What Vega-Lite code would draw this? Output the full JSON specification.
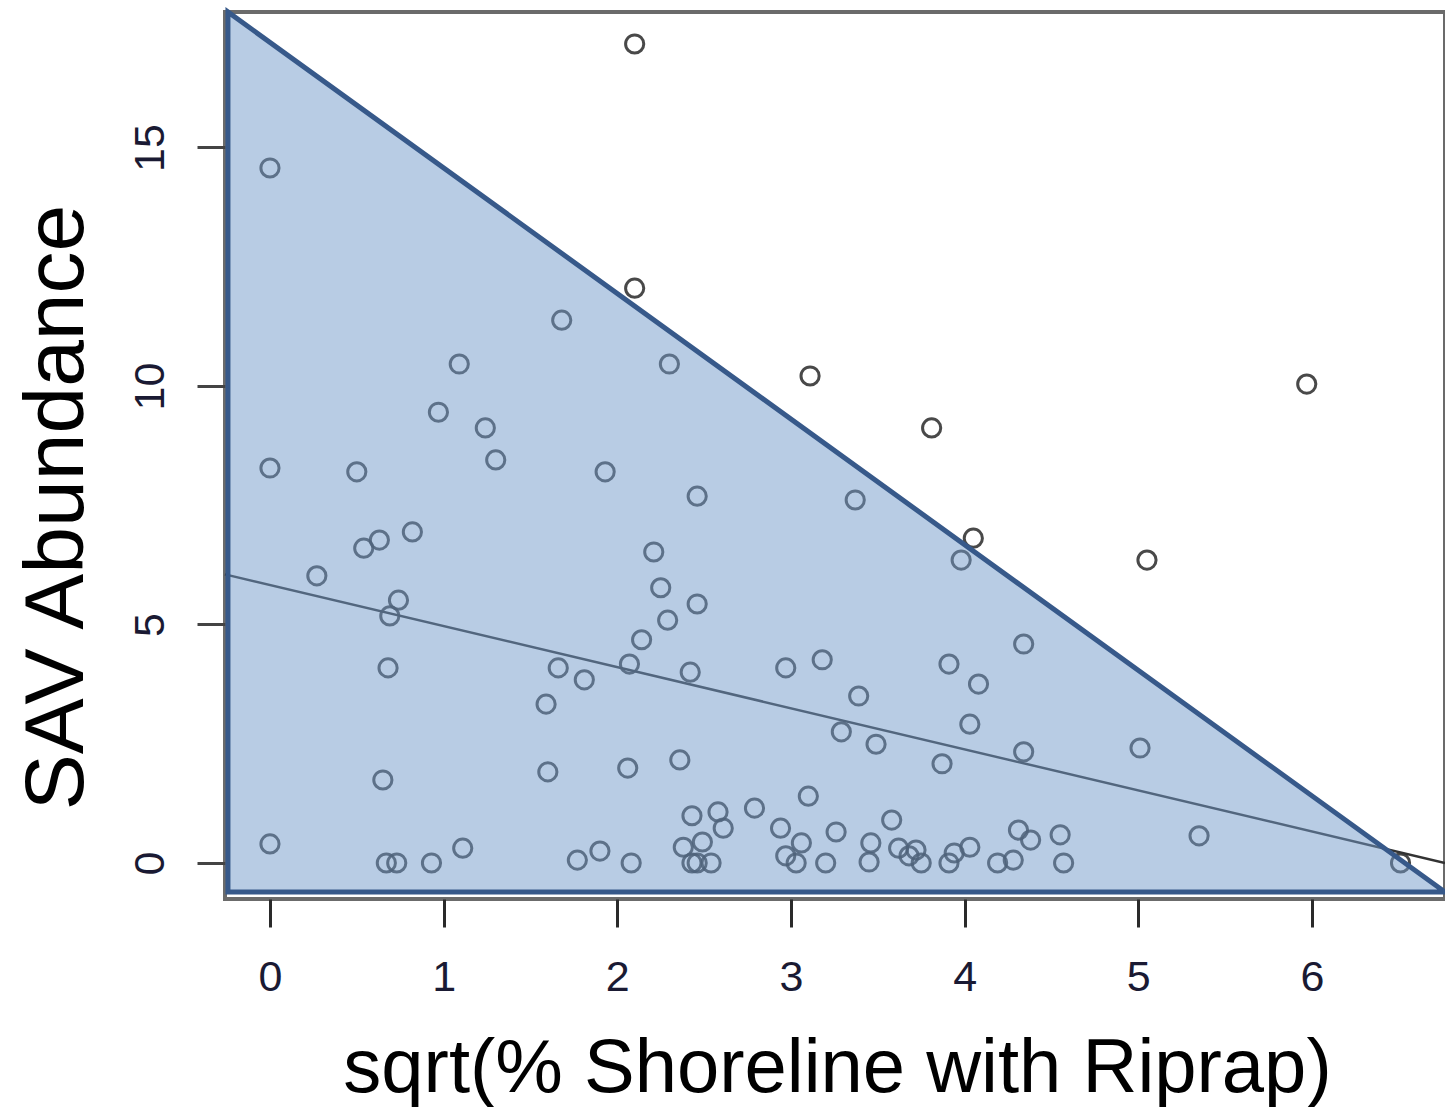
{
  "$schema": "https://vega.github.io/schema/vega-lite/v6.json",
  "width": 1220,
  "height": 887,
  "autosize": "none",
  "padding": {"left": 225, "top": 12, "right": 0, "bottom": 208},
  "background": "white",
  "config": {
    "view": {"stroke": "#6b6b6b", "strokeWidth": 4},
    "font": "Liberation Sans"
  },
  "datasets": {
    "pts": [
      {"x": 2.10, "y": 17.17}, {"x": 0, "y": 14.57}, {"x": 2.10, "y": 12.05}, {"x": 1.68, "y": 11.38},
      {"x": 1.09, "y": 10.46}, {"x": 2.30, "y": 10.46}, {"x": 3.11, "y": 10.21}, {"x": 5.97, "y": 10.04},
      {"x": 0.97, "y": 9.45}, {"x": 1.24, "y": 9.12}, {"x": 3.81, "y": 9.12}, {"x": 1.30, "y": 8.45},
      {"x": 0, "y": 8.28}, {"x": 0.50, "y": 8.20}, {"x": 1.93, "y": 8.20}, {"x": 2.46, "y": 7.69},
      {"x": 3.37, "y": 7.61}, {"x": 0.82, "y": 6.94}, {"x": 0.63, "y": 6.77}, {"x": 0.54, "y": 6.60},
      {"x": 4.05, "y": 6.81}, {"x": 2.21, "y": 6.52}, {"x": 3.98, "y": 6.35}, {"x": 5.05, "y": 6.35},
      {"x": 0.27, "y": 6.02}, {"x": 2.25, "y": 5.77}, {"x": 0.74, "y": 5.51}, {"x": 2.46, "y": 5.43},
      {"x": 0.69, "y": 5.18}, {"x": 2.29, "y": 5.09}, {"x": 2.14, "y": 4.68}, {"x": 4.34, "y": 4.59},
      {"x": 3.18, "y": 4.26}, {"x": 2.07, "y": 4.17}, {"x": 1.66, "y": 4.09}, {"x": 0.68, "y": 4.09},
      {"x": 2.97, "y": 4.09}, {"x": 3.91, "y": 4.17}, {"x": 2.42, "y": 4.00}, {"x": 1.81, "y": 3.84},
      {"x": 4.08, "y": 3.75}, {"x": 3.39, "y": 3.50}, {"x": 1.59, "y": 3.33}, {"x": 4.03, "y": 2.91},
      {"x": 3.29, "y": 2.75}, {"x": 3.49, "y": 2.49}, {"x": 5.01, "y": 2.41}, {"x": 4.34, "y": 2.33},
      {"x": 2.36, "y": 2.16}, {"x": 3.87, "y": 2.08}, {"x": 2.06, "y": 1.99}, {"x": 1.60, "y": 1.91},
      {"x": 0.65, "y": 1.74}, {"x": 3.10, "y": 1.40}, {"x": 2.79, "y": 1.15}, {"x": 2.58, "y": 1.07},
      {"x": 2.43, "y": 0.99}, {"x": 3.58, "y": 0.90}, {"x": 2.94, "y": 0.73}, {"x": 2.61, "y": 0.73},
      {"x": 3.26, "y": 0.65}, {"x": 4.31, "y": 0.69}, {"x": 4.55, "y": 0.59}, {"x": 5.35, "y": 0.57},
      {"x": 4.38, "y": 0.48}, {"x": 2.49, "y": 0.44}, {"x": 0, "y": 0.40}, {"x": 3.46, "y": 0.42},
      {"x": 3.06, "y": 0.42}, {"x": 1.11, "y": 0.31}, {"x": 4.03, "y": 0.33}, {"x": 2.38, "y": 0.33},
      {"x": 1.90, "y": 0.25}, {"x": 3.62, "y": 0.31}, {"x": 3.94, "y": 0.21}, {"x": 2.97, "y": 0.15},
      {"x": 3.72, "y": 0.27}, {"x": 3.68, "y": 0.15}, {"x": 1.77, "y": 0.06}, {"x": 4.28, "y": 0.06},
      {"x": 3.45, "y": 0.02}, {"x": 0.67, "y": 0}, {"x": 0.73, "y": 0}, {"x": 0.93, "y": 0},
      {"x": 2.08, "y": 0}, {"x": 2.43, "y": 0}, {"x": 2.46, "y": 0}, {"x": 2.54, "y": 0},
      {"x": 3.03, "y": 0}, {"x": 3.20, "y": 0}, {"x": 3.75, "y": 0}, {"x": 3.91, "y": 0},
      {"x": 4.19, "y": 0}, {"x": 4.57, "y": 0}, {"x": 6.51, "y": 0}
    ],
    "fit": [
      {"x": -0.259, "y": 6.05},
      {"x": 6.766, "y": 0.0}
    ],
    "tri": [
      {"x": -0.242, "y": 17.84},
      {"x": 6.766, "y": -0.61}
    ],
    "edge": [
      {"x": -0.242, "y": -0.61, "o": 0},
      {"x": -0.242, "y": 17.84, "o": 1},
      {"x": 6.766, "y": -0.61, "o": 2},
      {"x": -0.242, "y": -0.61, "o": 3}
    ]
  },
  "encoding": {
    "x": {
      "field": "x",
      "type": "quantitative",
      "scale": {"domain": [-0.259, 6.766], "nice": false, "zero": false},
      "axis": {
        "values": [0, 1, 2, 3, 4, 5, 6],
        "title": "sqrt(% Shoreline with Riprap)",
        "grid": false,
        "domain": false,
        "tickSize": 28,
        "tickWidth": 3,
        "tickColor": "#2a2a2a",
        "labelFont": "Liberation Sans",
        "labelFontSize": 43,
        "labelColor": "#1a1a33",
        "labelBaseline": "alphabetic",
        "labelPadding": 63,
        "labelFlush": false,
        "labelOverlap": false,
        "titleFont": "Liberation Sans",
        "titleFontSize": 76,
        "titleFontWeight": "normal",
        "titleColor": "#000000",
        "titleX": 612,
        "titleY": 192,
        "titleAlign": "center",
        "titleBaseline": "alphabetic"
      }
    },
    "y": {
      "field": "y",
      "type": "quantitative",
      "scale": {"domain": [-0.755, 17.84], "nice": false, "zero": false},
      "axis": {
        "values": [0, 5, 10, 15],
        "title": "SAV Abundance",
        "grid": false,
        "domain": false,
        "tickSize": 28,
        "tickWidth": 3,
        "tickColor": "#444444",
        "labelFont": "Liberation Sans",
        "labelFontSize": 43,
        "labelColor": "#1a1a33",
        "labelAngle": -90,
        "labelAlign": "center",
        "labelBaseline": "alphabetic",
        "labelPadding": 34,
        "labelFlush": false,
        "labelOverlap": false,
        "titleFont": "Liberation Sans",
        "titleFontSize": 84,
        "titleFontWeight": "normal",
        "titleColor": "#000000",
        "titleAngle": -90,
        "titleX": -143,
        "titleY": 495,
        "titleAlign": "center",
        "titleBaseline": "alphabetic"
      }
    }
  },
  "layer": [
    {
      "data": {"name": "pts"},
      "mark": {"type": "point", "shape": "circle", "filled": false, "color": "#2a2a2a", "strokeWidth": 3, "size": 330, "opacity": 0.85}
    },
    {
      "data": {"name": "fit"},
      "mark": {"type": "line", "color": "#333333", "strokeWidth": 2.5}
    },
    {
      "data": {"name": "tri"},
      "mark": {"type": "area", "color": "#7199c9", "opacity": 0.5},
      "encoding": {"y2": {"datum": -0.61}}
    },
    {
      "data": {"name": "edge"},
      "mark": {"type": "line", "color": "#37598a", "strokeWidth": 5, "strokeCap": "square"},
      "encoding": {"order": {"field": "o", "type": "quantitative"}}
    }
  ]
}
